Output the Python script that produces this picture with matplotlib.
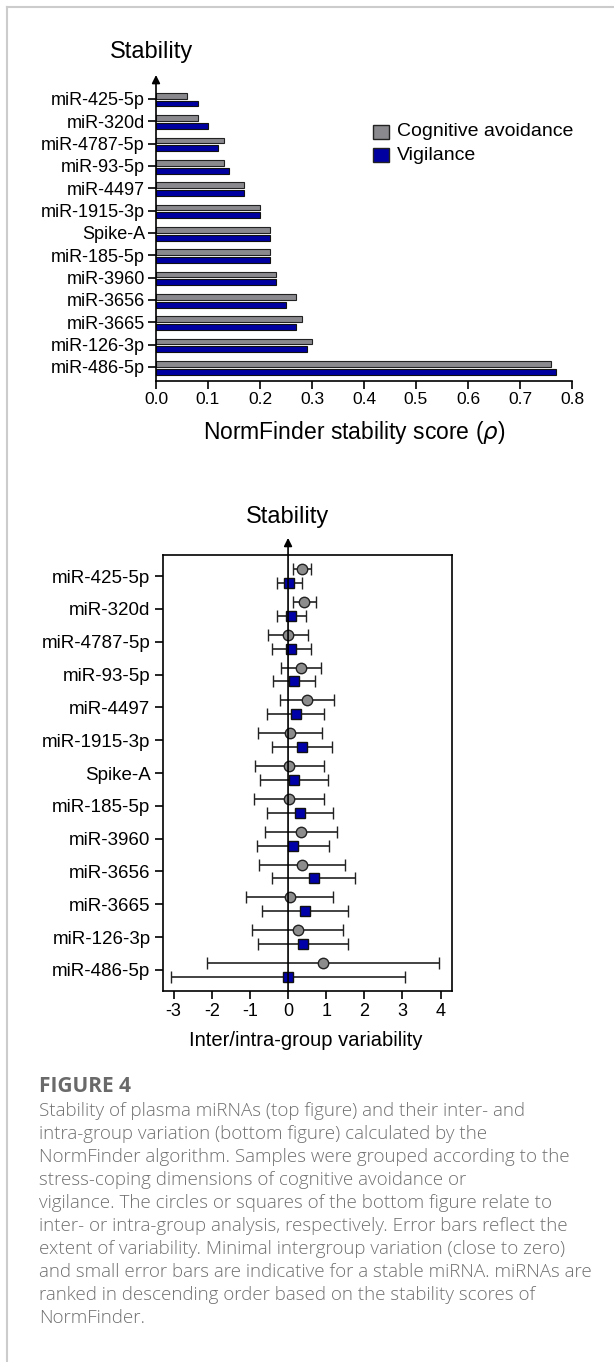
import numpy as np
import matplotlib.pyplot as plt
from matplotlib.lines import Line2D
from matplotlib.patches import Rectangle

plt.rcParams['font.family'] = ['Liberation Sans', 'DejaVu Sans']

# miRNAs, ranked by NormFinder stability
mirnas = ['miR-425-5p', 'miR-320d', 'miR-4787-5p', 'miR-93-5p', 'miR-4497',
          'miR-1915-3p', 'Spike-A', 'miR-185-5p', 'miR-3960', 'miR-3656',
          'miR-3665', 'miR-126-3p', 'miR-486-5p']

# top panel: stability score per grouping
score_avoid = [0.06, 0.08, 0.13, 0.13, 0.17, 0.20, 0.22, 0.22, 0.23, 0.27, 0.28, 0.30, 0.76]
score_vigil = [0.08, 0.10, 0.12, 0.14, 0.17, 0.20, 0.22, 0.22, 0.23, 0.25, 0.27, 0.29, 0.77]
top_ticks = [0.0, 0.1, 0.2, 0.3, 0.4, 0.5, 0.6, 0.7, 0.8]
top_ticklabels = ['0.0', '0.1', '0.2', '0.3', '0.4', '0.5', '0.6', '0.7', '0.8']

# bottom panel: inter-group (circles) and intra-group (squares) variability
inter_val = [0.36, 0.42, 0.00, 0.34, 0.50, 0.05, 0.03, 0.02, 0.34, 0.37, 0.04, 0.25, 0.92]
inter_err = [0.24, 0.30, 0.53, 0.53, 0.70, 0.83, 0.90, 0.91, 0.94, 1.12, 1.15, 1.19, 3.05]
intra_val = [0.03, 0.09, 0.09, 0.15, 0.20, 0.37, 0.15, 0.32, 0.13, 0.67, 0.45, 0.39, 0.00]
intra_err = [0.33, 0.39, 0.51, 0.55, 0.75, 0.79, 0.89, 0.87, 0.94, 1.09, 1.13, 1.18, 3.08]
bot_ticks = [-3, -2, -1, 0, 1, 2, 3, 4]
bot_ticklabels = ['-3', '-2', '-1', '0', '1', '2', '3', '4']

caption_title = 'FIGURE 4'
caption_lines = [
    'Stability of plasma miRNAs (top figure) and their inter- and',
    'intra-group variation (bottom figure) calculated by the',
    'NormFinder algorithm. Samples were grouped according to the',
    'stress-coping dimensions of cognitive avoidance or',
    'vigilance. The circles or squares of the bottom figure relate to',
    'inter- or intra-group analysis, respectively. Error bars reflect the',
    'extent of variability. Minimal intergroup variation (close to zero)',
    'and small error bars are indicative for a stable miRNA. miRNAs are',
    'ranked in descending order based on the stability scores of',
    'NormFinder.',
]

W, H = 614, 1362
fig = plt.figure(figsize=(W / 100, H / 100), dpi=100)


def fx(x):
    return x / W


def fy(y):
    return 1 - y / H


y = np.arange(len(mirnas))
gray = '#8a8a8e'
blue = '#0000a0'

# ---- top panel ----
ax1 = fig.add_axes([fx(156), fy(381), fx(572) - fx(156), fy(75) - fy(381)])
ax1.barh(y - 0.14, score_avoid, height=0.26, color=gray, edgecolor='#222222', linewidth=0.8)
ax1.barh(y + 0.21, score_vigil, height=0.26, color=blue, edgecolor='#111111', linewidth=0.8)
ax1.set_xlim(0, 0.8)
ax1.set_ylim(12.63, -1.07)
ax1.set_yticks(y)
ax1.set_yticklabels(mirnas, fontsize=13)
ax1.set_xticks(top_ticks)
ax1.set_xticklabels(top_ticklabels, fontsize=12.5)
for s in ['top', 'right', 'left']:
    ax1.spines[s].set_visible(False)
ax1.spines['bottom'].set_linewidth(1.2)
ax1.tick_params(direction='out', length=6, width=1.2, pad=2)
ax1.annotate('', xy=(0, -1.07), xytext=(0, 12.63),
             arrowprops=dict(arrowstyle='-|>', color='k', lw=1.2, mutation_scale=12,
                             shrinkA=0, shrinkB=0),
             annotation_clip=False)
fig.text(fx(152), fy(52), 'Stability', fontsize=17, ha='center', va='center')
fig.text(fx(354), fy(433), r'NormFinder stability score ($\rho$)', fontsize=16.5,
         ha='center', va='center')

# legend
for i, (lab, col) in enumerate([('Cognitive avoidance', gray), ('Vigilance', blue)]):
    yc = 132 + i * 23
    fig.add_artist(Rectangle((fx(373), fy(yc + 7)), fx(16), fy(yc - 7) - fy(yc + 7),
                             transform=fig.transFigure, facecolor=col,
                             edgecolor='#222222', linewidth=1))
    fig.text(fx(397), fy(yc), lab, fontsize=14, ha='left', va='center')

# ---- bottom panel ----
ax2 = fig.add_axes([fx(163), fy(991), fx(452) - fx(163), fy(555) - fy(991)])
ax2.errorbar(inter_val, y - 0.21, xerr=inter_err, fmt='o', ms=7.5, mfc='#8c8c8c',
             mec='#222222', mew=1, ecolor='#222222', elinewidth=1.2, capsize=4, capthick=1.2)
ax2.errorbar(intra_val, y + 0.21, xerr=intra_err, fmt='s', ms=7.5, mfc='#0000a8',
             mec='#111111', mew=1, ecolor='#222222', elinewidth=1.2, capsize=4, capthick=1.2)
ax2.set_xlim(-3.28, 4.3)
ax2.set_ylim(12.64, -0.64)
ax2.set_yticks(y)
ax2.set_yticklabels(mirnas, fontsize=13.5)
ax2.set_xticks(bot_ticks)
ax2.set_xticklabels(bot_ticklabels, fontsize=13)
for s in ax2.spines.values():
    s.set_linewidth(1.2)
ax2.tick_params(direction='out', length=6, width=1.2, pad=3)
ax2.annotate('', xy=(0, -1.16), xytext=(0, 12.64),
             arrowprops=dict(arrowstyle='-|>', color='k', lw=1.2, mutation_scale=12,
                             shrinkA=0, shrinkB=0),
             annotation_clip=False)
fig.text(fx(288), fy(517), 'Stability', fontsize=17, ha='center', va='center')
fig.text(fx(306), fy(1040), 'Inter/intra-group variability', fontsize=14.5,
         ha='center', va='center')

# ---- caption ----
fig.text(fx(39), fy(1087), caption_title, fontsize=15, fontweight='bold',
         color='#6a6a6a', family='Open Sans', ha='left', va='center')
for i, line in enumerate(caption_lines):
    fig.text(fx(39), fy(1111 + i * 23), line, fontsize=13.5, color='#707070',
             family='Open Sans', fontweight='light', ha='left', va='center')

# page frame
fig.add_artist(Line2D([fx(7), fx(7)], [0, fy(7)], color='#cccccc', lw=1.5))
fig.add_artist(Line2D([fx(7), 1], [fy(7), fy(7)], color='#cccccc', lw=1.5))

fig.savefig('out.png', dpi=100)
